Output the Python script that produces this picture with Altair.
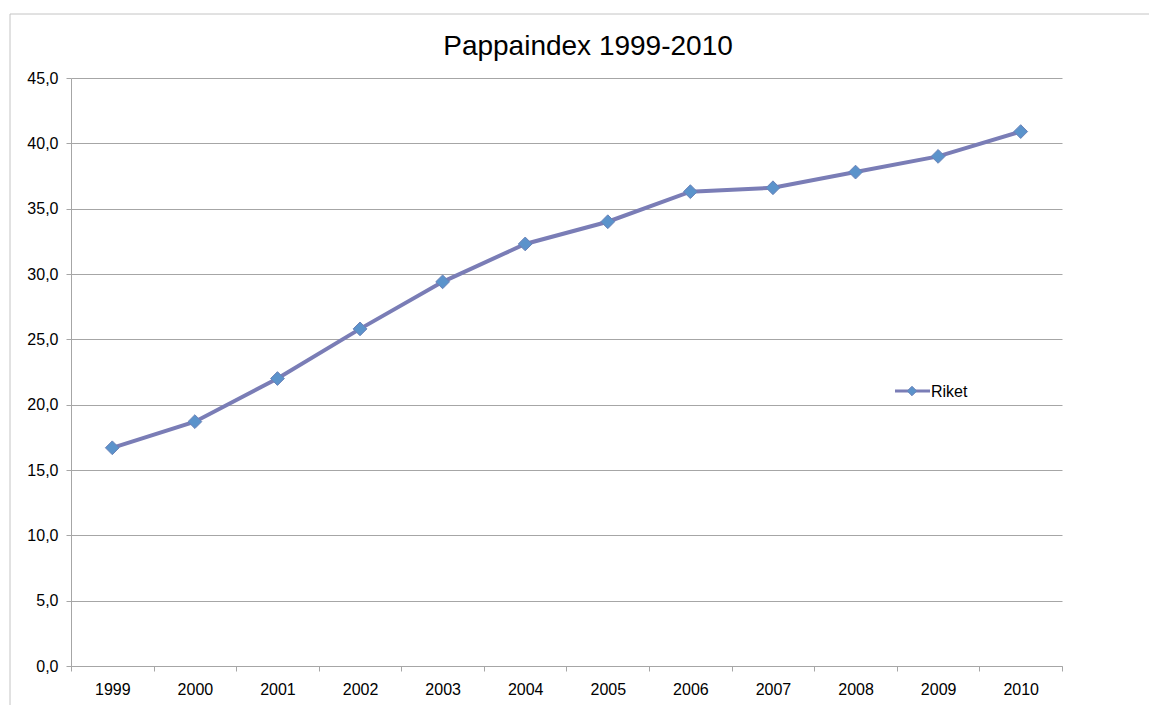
import altair as alt
import pandas as pd

years = ["1999", "2000", "2001", "2002", "2003", "2004", "2005", "2006", "2007", "2008", "2009", "2010"]
values = [16.7, 18.7, 22.0, 25.8, 29.4, 32.3, 34.0, 36.3, 36.6, 37.8, 39.0, 40.9]
series_name = "Riket"
title_text = "Pappaindex 1999-2010"
y_ticks = [0, 5, 10, 15, 20, 25, 30, 35, 40, 45]

df = pd.DataFrame({"year": years, "value": values})
one = pd.DataFrame({"series": [series_name], "title": [title_text]})

W, H = 991, 588
FONT = "Liberation Sans"
LINE_COLOR = "#7a7db6"
PT_COLOR = "#5b93cb"
GRAY = "#a6a6a6"

x = alt.X("year:O",
          scale=alt.Scale(type="band", paddingInner=0, paddingOuter=0),
          axis=alt.Axis(title=None, labelAngle=0, tickBand="extent", grid=False,
                        domainColor=GRAY, tickColor=GRAY, tickSize=5,
                        labelPadding=10, labelFontSize=16, labelFont=FONT,
                        labelColor="#000"))
y = alt.Y("value:Q",
          scale=alt.Scale(domain=[0, 45], nice=False),
          axis=alt.Axis(title=None, values=y_ticks, grid=True, gridColor=GRAY,
                        domainColor=GRAY, tickColor=GRAY, tickSize=5,
                        labelPadding=8, labelFontSize=16, labelFont=FONT,
                        labelColor="#000",
                        labelExpr="replace(format(datum.value, '.1f'), '.', ',')"))

line = alt.Chart(df).mark_line(color=LINE_COLOR, strokeWidth=4).encode(x=x, y=y)
pts = alt.Chart(df).mark_point(shape="diamond", filled=True, size=190, fill=PT_COLOR,
                               stroke="#6b82b8", strokeWidth=1, opacity=1).encode(x=x, y=y)

title = alt.Chart(one).mark_text(fontSize=28, font=FONT, color="#000", align="center",
                                 baseline="middle").encode(
    text="title:N", x=alt.value(517), y=alt.value(-31))

leg_line = alt.Chart(one).mark_rule(color=LINE_COLOR, strokeWidth=3).encode(
    x=alt.value(824), x2=alt.value(859), y=alt.value(313))
leg_pt = alt.Chart(one).mark_point(shape="diamond", filled=True, size=90, fill=PT_COLOR,
                                   stroke="#6b82b8", strokeWidth=1, opacity=1).encode(
    x=alt.value(841), y=alt.value(313))
leg_txt = alt.Chart(one).mark_text(fontSize=16, font=FONT, color="#000", align="left",
                                   baseline="middle").encode(
    text="series:N", x=alt.value(860), y=alt.value(314))

border_l = alt.Chart(one).mark_rule(color="#c4c4c4", strokeWidth=1).encode(
    x=alt.value(-61), y=alt.value(-64), y2=alt.value(H + 60))
border_t = alt.Chart(one).mark_rule(color="#c4c4c4", strokeWidth=1).encode(
    x=alt.value(-61), x2=alt.value(W + 100), y=alt.value(-64))

chart = alt.layer(border_l, border_t, line, pts, title, leg_line, leg_pt, leg_txt).properties(
    width=W, height=H, autosize="none",
    padding={"left": 63, "top": 70, "right": 87, "bottom": 39},
).configure_view(stroke=None)

chart.save("out.html", embed_options={"renderer": "svg", "actions": False})
